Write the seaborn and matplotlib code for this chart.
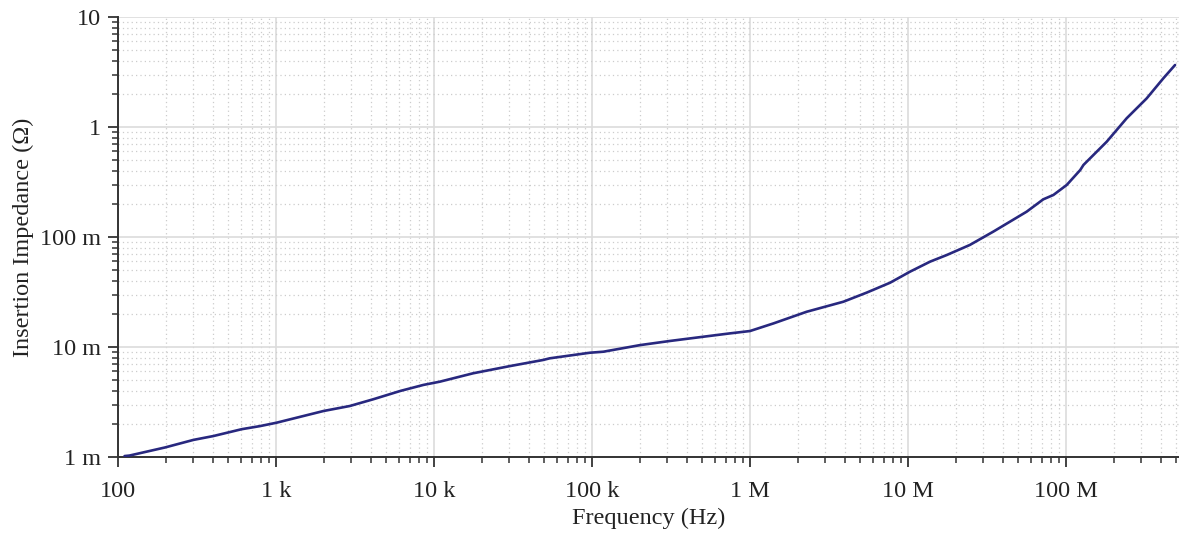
import numpy as np
import pandas as pd
import matplotlib
matplotlib.use("Agg")
import matplotlib.pyplot as plt
import seaborn as sns
from matplotlib.ticker import LogLocator, NullFormatter

# Data
freq_hz = [110, 118, 198, 300, 401, 607, 793, 1008, 2000, 2937, 4130, 6100, 8560,
           10.9e3, 17.7e3, 30.3e3, 49e3, 54e3, 97e3, 118e3, 201e3, 312e3, 507e3,
           747e3, 1.0e6, 1.41e6, 2.28e6, 3.9e6, 5.47e6, 7.7e6, 10.3e6, 13.8e6,
           17.6e6, 24.6e6, 34.7e6, 56.4e6, 71.8e6, 83.2e6, 101e6, 123e6, 129e6,
           181e6, 242e6, 324e6, 413e6, 490e6]
impedance_ohm = [1.02e-3, 1.03e-3, 1.22e-3, 1.43e-3, 1.55e-3, 1.79e-3, 1.91e-3, 2.05e-3,
                 2.62e-3, 2.91e-3, 3.35e-3, 3.98e-3, 4.52e-3, 4.84e-3, 5.77e-3, 6.71e-3,
                 7.62e-3, 7.89e-3, 8.87e-3, 9.06e-3, 10.4e-3, 11.35e-3, 12.4e-3, 13.3e-3,
                 13.97e-3, 16.4e-3, 20.9e-3, 25.8e-3, 31.2e-3, 38.4e-3, 48.4e-3, 59.7e-3,
                 68.6e-3, 84.6e-3, 112e-3, 170e-3, 220e-3, 241e-3, 297e-3, 0.406, 0.452,
                 0.735, 1.2, 1.82, 2.77, 3.66]

x_ticks = [1e2, 1e3, 1e4, 1e5, 1e6, 1e7, 1e8]
x_tick_labels = ["100", "1 k", "10 k", "100 k", "1 M", "10 M", "100 M"]
y_ticks = [1e-3, 1e-2, 1e-1, 1, 10]
y_tick_labels = ["1 m", "10 m", "100 m", "1", "10"]

df = pd.DataFrame({"Frequency": freq_hz, "Impedance": impedance_ohm})

sns.set_style("ticks")
plt.rcParams["font.family"] = ["Liberation Serif", "DejaVu Serif"]

fig = plt.figure(figsize=(11.79, 5.34), dpi=100)
ax = fig.add_axes([118 / 1179, 77 / 534, (1179 - 118) / 1179, (457 - 17) / 534])

sns.lineplot(data=df, x="Frequency", y="Impedance", ax=ax, color="#28287f",
             linewidth=1.9, zorder=3)

ax.set_xscale("log")
ax.set_yscale("log")
ax.set_xlim(100, 5.19e8)
ax.set_ylim(1e-3, 10)

ax.set_xticks(x_ticks)
ax.set_xticklabels(x_tick_labels)
ax.set_yticks(y_ticks)
ax.set_yticklabels(y_tick_labels)
ax.xaxis.set_minor_locator(LogLocator(base=10, subs=np.arange(2, 10), numticks=20))
ax.yaxis.set_minor_locator(LogLocator(base=10, subs=np.arange(2, 10), numticks=20))
ax.xaxis.set_minor_formatter(NullFormatter())
ax.yaxis.set_minor_formatter(NullFormatter())

ax.grid(True, which="major", color="#dcdcdc", linewidth=1.2, linestyle="-", zorder=0)
ax.grid(True, which="minor", color="#cccccc", linewidth=0.9, linestyle=(0, (1, 2.5)), zorder=0)

for side in ["top", "right"]:
    ax.spines[side].set_visible(False)
for side in ["left", "bottom"]:
    ax.spines[side].set_color("#333333")
    ax.spines[side].set_linewidth(1.4)

ax.tick_params(which="major", direction="out", length=7.5, width=1.3, color="#333333",
               labelsize=17.5, labelcolor="#222222", pad=5)
ax.tick_params(axis="x", which="major", pad=10)
ax.tick_params(which="minor", direction="out", length=4.5, width=1.1, color="#333333")

ax.set_xlabel("Frequency (Hz)", fontsize=17.5, color="#222222", labelpad=4)
ax.set_ylabel("Insertion Impedance (\u03a9)", fontsize=17.5, color="#222222", labelpad=4)

fig.savefig("out.png", dpi=100)
